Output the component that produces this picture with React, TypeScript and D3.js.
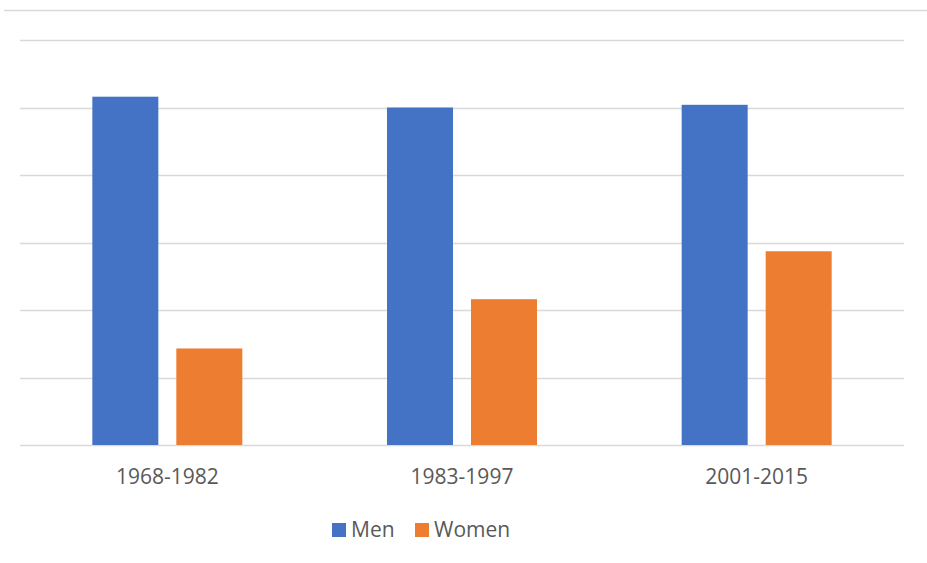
import React, { useEffect, useRef } from 'react';
import * as d3 from 'd3';

const categories = ['1968-1982', '1983-1997', '2001-2015'];
const seriesNames = ['Men', 'Women'];
const menValues = [51.6, 50.0, 50.4];
const womenValues = [14.3, 21.6, 28.7];
const yTicks = [0, 10, 20, 30, 40, 50, 60];

const colors = ['#4472C4', '#ED7D31'];

const App = () => {
  const ref = useRef<SVGSVGElement>(null);

  useEffect(() => {
    const svg = d3.select(ref.current);
    svg.selectAll('*').remove();

    const width = 927;
    const height = 563;
    const margin = { top: 40, right: 23, bottom: 118, left: 20 };
    const font = '"Open Sans", "Liberation Sans", sans-serif';

    const data = categories.map((c, i) => ({ category: c, values: [menValues[i], womenValues[i]] }));

    const x0 = d3.scaleBand()
      .domain(categories)
      .range([margin.left, width - margin.right])
      .paddingInner(0)
      .paddingOuter(0);

    const groupWidth = 150;
    const x1 = d3.scaleBand()
      .domain(seriesNames)
      .range([(x0.bandwidth() - groupWidth) / 2, (x0.bandwidth() + groupWidth) / 2])
      .paddingInner(18 / 84);

    const y = d3.scaleLinear()
      .domain([0, 60])
      .range([height - margin.bottom, margin.top]);

    // chart border (top edge visible)
    svg.append('line')
      .attr('x1', 4).attr('x2', width)
      .attr('y1', 10.5).attr('y2', 10.5)
      .attr('stroke', '#D9D9D9')
      .attr('stroke-width', 1.5);

    // gridlines
    svg.append('g')
      .selectAll('line')
      .data(yTicks)
      .enter().append('line')
      .attr('x1', margin.left)
      .attr('x2', width - margin.right)
      .attr('y1', d => Math.round(y(d)) + 0.5)
      .attr('y2', d => Math.round(y(d)) + 0.5)
      .attr('stroke', '#D9D9D9')
      .attr('stroke-width', 1.5);

    // bars
    svg.append('g')
      .selectAll('g')
      .data(data)
      .enter().append('g')
      .attr('transform', d => `translate(${x0(d.category)},0)`)
      .selectAll('rect')
      .data(d => d.values.map((v, i) => ({ key: seriesNames[i], value: v, i })))
      .enter().append('rect')
      .attr('x', d => x1(d.key)!)
      .attr('y', d => y(d.value))
      .attr('width', x1.bandwidth())
      .attr('height', d => y(0) - y(d.value))
      .attr('fill', d => colors[d.i]);

    // category labels
    svg.append('g')
      .selectAll('text')
      .data(categories)
      .enter().append('text')
      .attr('x', d => x0(d)! + x0.bandwidth() / 2)
      .attr('y', 484)
      .attr('text-anchor', 'middle')
      .attr('font-family', font)
      .attr('font-size', 21)
      .attr('fill', '#595959')
      .text(d => d);

    // legend
    const legendX = [332, 415];
    const legend = svg.append('g');
    legend.selectAll('rect')
      .data(seriesNames)
      .enter().append('rect')
      .attr('x', (d, i) => legendX[i])
      .attr('y', 523)
      .attr('width', 14)
      .attr('height', 14)
      .attr('fill', (d, i) => colors[i]);

    legend.selectAll('text')
      .data(seriesNames)
      .enter().append('text')
      .attr('x', (d, i) => legendX[i] + 19)
      .attr('y', 537)
      .attr('font-family', font)
      .attr('font-size', 21)
      .attr('fill', '#595959')
      .text(d => d);
  }, []);

  return (
    <svg
      ref={ref}
      width={927}
      height={563}
      style={{ position: 'absolute', left: 0, top: 0, background: '#fff' }}
    />
  );
};

export default App;
